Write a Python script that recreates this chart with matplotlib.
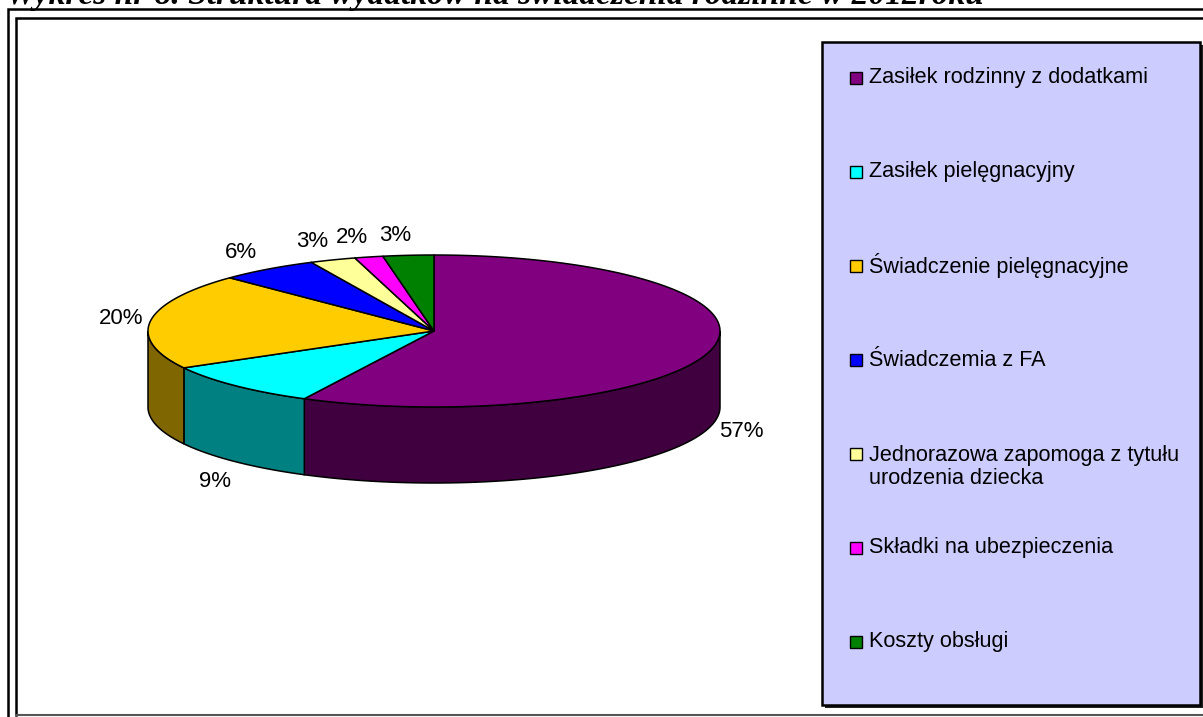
import numpy as np
import matplotlib
matplotlib.use("Agg")
from matplotlib import pyplot as plt
from matplotlib.patches import Polygon, Rectangle

title = "Wykres nr 8. Struktura wydatków na świadczenia rodzinne w 2012roku"
categories = ["Zasiłek rodzinny z dodatkami",
              "Zasiłek pielęgnacyjny",
              "Świadczenie pielęgnacyjne",
              "Świadczemia z FA",
              "Jednorazowa zapomoga z tytułu\nurodzenia dziecka",
              "Składki na ubezpieczenia",
              "Koszty obsługi"]
values = [57.49, 9.45, 20.4, 5.6, 2.6, 1.6, 2.86]
top_colors = ["#800080", "#00FFFF", "#FFCC00", "#0000FF", "#FFFF99", "#FF00FF", "#008000"]
side_colors = ["#400040", "#008080", "#806600", "#000080", "#80804C", "#800080", "#004000"]

W, H = 1203, 717
fig = plt.figure(figsize=(W / 100, H / 100), dpi=100)
ax = fig.add_axes([0, 0, 1, 1])
ax.set_xlim(0, W)
ax.set_ylim(H, 0)
ax.axis("off")

font = "Liberation Sans"

# frame (double line top/left)
ax.plot([7.5, 7.5, W + 5], [H + 5, 9, 9], color="black", lw=1.8, solid_joinstyle="miter")
ax.plot([16, 16, W + 5], [715, 18, 18], color="black", lw=1.8, solid_joinstyle="miter")
ax.plot([16, W + 5], [715, 715], color="#555555", lw=1.5)

# cut-off title
ax.text(6, 4, title, fontfamily="Liberation Serif", fontsize=24, fontweight="bold",
        fontstyle="italic", va="baseline", ha="left")

# 3D pie
cx, cy, a, b, depth = 434, 331, 286, 76, 76


def ell(t):
    r = np.radians(t)
    return cx + a * np.sin(r), cy - b * np.cos(r)


fracs = np.array(values) / sum(values)
bounds = np.concatenate([[0], np.cumsum(fracs) * 360])

for i in range(len(values)):
    t0, t1 = max(bounds[i], 90), min(bounds[i + 1], 270)
    if t1 <= t0:
        continue
    t = np.linspace(t0, t1, 120)
    xs, ys = ell(t)
    pts = np.column_stack([np.r_[xs, xs[::-1]], np.r_[ys, ys[::-1] + depth]])
    ax.add_patch(Polygon(pts, closed=True, fc=side_colors[i], ec="black", lw=1.1))

for i in range(len(values)):
    t = np.linspace(bounds[i], bounds[i + 1], 200)
    xs, ys = ell(t)
    pts = np.column_stack([np.r_[cx, xs], np.r_[cy, ys]])
    ax.add_patch(Polygon(pts, closed=True, fc=top_colors[i], ec="black", lw=1.1,
                         joinstyle="round"))

for i, v in enumerate(values):
    mid = np.radians((bounds[i] + bounds[i + 1]) / 2)
    s, c = np.sin(mid), np.cos(mid)
    lx = cx + (a + 30) * s
    if c < 0:
        ly = cy - (b + 28) * c + depth
    else:
        ly = cy - (b + 20) * c
        if c > 0.5:
            lx -= 10
    ax.text(lx, ly, f"{round(v)}%", fontfamily=font, fontsize=16, ha="center", va="center")

# legend
ax.add_patch(Rectangle((825, 45), 378, 663, fc="#222222", ec="none"))
ax.add_patch(Rectangle((822, 42), 378, 663, fc="#CCCCFF", ec="black", lw=1.8))
for i, (name, col) in enumerate(zip(categories, top_colors)):
    y = 78 + 94 * i
    ax.add_patch(Rectangle((850, y - 6), 12, 12, fc=col, ec="black", lw=1))
    nl = name.count("\n")
    ax.text(869, y + nl * 13, name, fontfamily=font, fontsize=15.6, ha="left", va="center",
            linespacing=1.15)

fig.savefig("out.png", dpi=100)
